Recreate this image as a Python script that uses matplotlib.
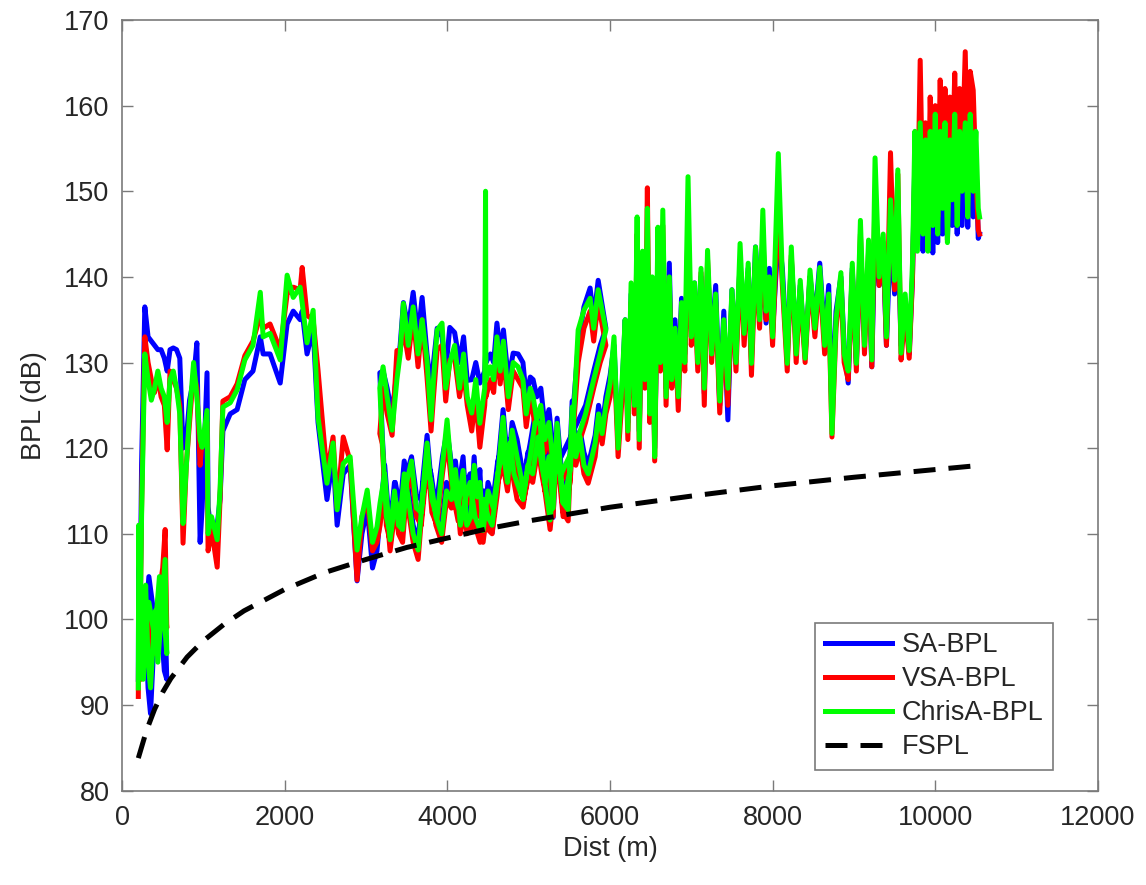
import matplotlib
matplotlib.use('Agg')
import matplotlib.pyplot as plt

# distance along the drive (m); the route goes out, back and out again
dist = [
    200, 205, 230, 260, 290, 320, 350, 380, 410, 440, 470, 500, 530, 550, 520, 460, 400, 330, 260, 215, 240, 280,
    320, 360, 400, 440, 480, 520, 555, 590, 630, 670, 710, 750, 790, 830, 880, 920, 960, 985, 1045, 1058,
    1100, 1170, 1205, 1240, 1330, 1415, 1510, 1610, 1700, 1735, 1820, 1945, 2030, 2105, 2190, 2215, 2275, 2350,
    2410, 2520, 2595, 2645, 2720, 2805, 2890, 2950, 3015, 3080, 3135,
    3173, 3230, 3296, 3360, 3419, 3470, 3518, 3580, 3641, 3700, 3751, 3810, 3874, 3940, 3997, 4060, 4133, 4194,
    4240, 4290, 4330, 4367, 4400, 4440, 4500, 4563, 4620, 4686, 4740, 4797, 4858, 4940, 5018, 5080, 5141, 5200,
    5264, 5350, 5424, 5510, 5560, 5609, 5680, 5756, 5800, 5855, 5950,
    5880, 5800, 5700, 5600, 5500, 5400, 5300, 5250, 5200, 5150, 5100, 5055, 5020, 4970, 4930, 4870, 4810, 4750,
    4690, 4650, 4610, 4570, 4530, 4475, 4470, 4460, 4400, 4350, 4300, 4245, 4200, 4150, 4090, 4030, 3980, 3935,
    3875, 3830, 3800, 3750, 3690, 3640, 3580, 3520, 3460, 3420, 3380, 3321, 3260, 3210, 3170, 3200, 3250,
    3300, 3350, 3400, 3450, 3500, 3560, 3620, 3680, 3740, 3800, 3860, 3930, 3990, 4050, 4100, 4160, 4220, 4280,
    4340, 4403, 4450, 4500, 4551, 4613, 4686, 4730, 4772, 4820, 4858, 4932, 4990, 5050, 5117, 5160, 5200, 5250,
    5301, 5350, 5424, 5486, 5535, 5580, 5633, 5680, 5732, 5818, 5860, 5904, 5950, 6002,
    6050, 6100, 6150, 6187, 6220, 6260, 6300, 6334, 6360, 6400, 6430, 6460, 6490, 6520, 6550, 6590, 6620, 6650,
    6690, 6730, 6760, 6800, 6840, 6880, 6920, 6960, 7000, 7040, 7080, 7120, 7160, 7200, 7250, 7300, 7350, 7400,
    7450, 7500, 7550, 7600, 7650, 7700, 7740, 7790, 7840, 7880, 7920, 7960, 8000, 8070, 8120, 8180, 8230, 8290,
    8340, 8400, 8460, 8520, 8580, 8640, 8690, 8730, 8780, 8840, 8880, 8930, 8980, 9030, 9080, 9130, 9180, 9220,
    9260, 9310, 9360, 9400, 9450, 9500, 9540, 9580, 9630, 9680, 9720,
    9750, 9780, 9815, 9850, 9880, 9910, 9938, 9970, 10000, 10030, 10061, 10090, 10120, 10150, 10180, 10209,
    10240, 10270, 10300, 10330, 10369, 10400, 10430, 10467, 10500, 10529, 10545,
]

sa_bpl = [
    93, 108, 99, 95, 100, 92, 89, 95, 98, 96, 101, 104, 100, 93, 94, 102, 100, 105, 96, 95, 118, 136.5,
    133, 132.5, 132, 131.5, 131.5, 130.5, 129, 131.5, 131.7, 131.5, 130.5, 120, 121, 125.6, 128, 132.3, 109, 113, 128.8, 113.1,
    110, 111, 114, 122, 124, 124.5, 128, 129, 133, 131, 131, 127.6, 134.5, 136, 135, 136, 131, 134,
    123, 114, 119, 111, 117, 118, 104.5, 110, 113, 106, 108,
    112, 118, 110, 116, 113, 118.5, 115.5, 111, 109, 116.5, 121.5, 115, 114, 119, 122, 117.5, 115, 119,
    112, 113, 119, 113, 117.5, 109.5, 116, 114, 118.5, 120.5, 117, 123, 121, 116.5, 120.5, 124, 124, 117.5,
    112, 122, 115, 118, 126, 132, 136.5, 138.7, 135, 139.6, 134,
    132, 129, 125, 123, 121, 119, 120, 124.5, 122.5, 127, 126, 128, 128.3, 126, 130, 131, 131.1, 128,
    133.8, 131, 134.6, 130, 131, 130, 131, 129, 127.6, 130, 128, 127.9, 133, 130, 133.5, 134.1, 129, 133,
    134, 130, 127, 131, 137.6, 133, 138.2, 134, 137, 132, 129, 124, 127, 129, 128.8, 121.5, 113,
    111, 116, 112.5, 112, 117, 119, 114.5, 114, 119, 117, 113, 111, 116, 115, 118.5, 113, 115.5, 117,
    113.5, 112, 115, 111, 110.1, 117, 124.5, 119.5, 121, 118.5, 117.5, 115, 119.5, 118.5, 122, 119.5, 117, 120.5,
    111.9, 123.5, 115, 114, 125.5, 120.5, 122, 119.5, 118, 121.5, 125, 122.5, 126, 128.5,
    132, 121, 127, 135, 123, 138, 126, 141, 122, 139, 129, 143, 125, 138.5, 120, 142, 131, 141,
    127, 141.6, 129, 135, 127.5, 137.5, 131, 142, 134, 139.3, 131, 140, 126.4, 141, 132, 139, 125, 136,
    123.3, 138.5, 131, 141.6, 134, 141, 130.5, 143.5, 136, 141, 134.6, 141, 133.5, 145, 141, 130.5, 142, 132,
    139, 131, 140, 135, 141.6, 133, 139, 124, 136, 140, 132, 127.6, 141, 129.9, 143, 133, 142, 129.5,
    146, 139, 143, 132, 145, 138, 146, 132, 137, 131, 140,
    154, 145, 156, 143, 153, 144, 155, 142.8, 156, 144, 155, 145, 156, 144.3, 154, 146,
    156, 145, 155, 146, 155, 145.8, 155, 147, 154, 144.5, 145,
]

vsa_bpl = [
    91, 100, 93, 97, 102, 99, 96, 100, 99, 102, 104, 106, 110.5, 99, 103, 100, 96, 99, 95, 93, 113, 133,
    130, 128, 126.5, 128.5, 126, 125, 119.8, 129, 128, 127, 125, 108.9, 118, 123, 129, 127, 118, 121, 123, 108,
    110.5, 106.1, 114, 125.5, 126, 127.5, 130.8, 132.5, 135.5, 134, 134.5, 131.5, 138, 138.8, 138.5, 141.1, 135.5, 135,
    129.1, 117, 121.3, 113, 121.3, 118.5, 104.6, 112, 114, 108, 109,
    111, 115.5, 108, 113, 112, 116, 113, 109, 107, 114, 119.5, 112.5, 111, 117, 121, 115, 111.5, 116,
    110, 110.5, 117, 112, 115, 109, 113.5, 111.5, 116, 118, 115, 120.5, 117, 114, 117.5, 121.5, 121, 115,
    110.5, 119, 112, 116, 123.5, 130, 134, 136, 132.5, 137, 132,
    130, 127, 123, 120, 118, 116, 117, 121.5, 119.5, 123, 121.5, 124, 126, 122.5, 127, 128, 129, 124.5,
    131, 127.5, 132, 126.5, 128, 126, 127, 125, 120.1, 126, 122, 125, 129, 126, 130.5, 130.3, 125.5, 132,
    131.5, 126, 122, 128.3, 135, 129.5, 135.5, 130.5, 134, 131.4, 131.4, 121.5, 124, 127, 121.7, 120.5, 111,
    109, 114, 110, 109, 115, 117, 112, 111, 117, 115, 111, 109, 114, 113, 116.5, 110, 113, 115,
    111, 109, 113, 110.5, 110, 114.5, 122, 117, 119, 116, 114, 113.1, 117, 116, 120, 117, 115, 118,
    112, 121.5, 112.5, 111.5, 123.5, 118, 120, 117, 115.9, 119, 123, 120.5, 124, 126,
    131, 119, 126, 133.5, 121, 137, 124, 145, 120, 141, 127, 150.4, 123, 139, 118.5, 143, 129, 146,
    125, 139, 127, 133, 124.4, 136, 129, 146, 132, 138, 129, 140.5, 125, 142, 130, 137, 124.1, 134,
    125, 137.5, 129, 142, 132, 140.5, 128.5, 142, 134, 145, 135, 139.5, 132, 149, 139, 129, 142.5, 130,
    138.5, 130, 140, 133, 140, 131, 137, 121.3, 134, 139.5, 130, 128, 140.5, 129, 145, 131, 143, 129.5,
    150, 139, 144, 132, 154.5, 138.5, 152, 130.3, 136, 130.5, 139.6,
    153, 146, 165.3, 147, 158, 145, 161, 148, 160, 147, 163, 150, 162, 148, 161, 152,
    163.8, 150, 162, 153, 166.3, 151, 164, 161.8, 152, 145.5, 145,
]

chrisa_bpl = [
    92, 111, 97, 93, 104, 95, 92, 97, 101, 95, 99, 103, 107, 96, 100, 105, 98, 102, 98, 94, 112, 131,
    128, 125.6, 127, 129, 127, 126, 123, 128, 129, 127, 124, 111.2, 117.8, 124, 130, 126, 121, 120.1, 124.4, 110,
    112, 109.3, 115.1, 124.8, 125.3, 126.8, 130.3, 132, 138.2, 133, 133.4, 130.3, 140.2, 137.6, 138.8, 137, 132.3, 136.1,
    123.6, 115.9, 120.6, 112.8, 118.2, 119, 108.1, 112, 115.1, 109, 110.8,
    113.6, 117, 109.3, 114, 111.6, 117, 114.3, 110, 108.1, 115, 120.6, 114, 111.9, 118, 123.3, 116, 113.1, 117.4,
    111, 112, 118, 114.3, 116, 110.4, 115, 113.1, 117, 119.8, 116, 122.1, 119, 115, 119, 123, 122.9, 116,
    111.6, 120.1, 113.6, 117.4, 125, 133.8, 136.1, 137.5, 134, 138.5, 133.8,
    131, 128, 124, 121, 119, 117, 118.2, 123, 121, 125, 123.3, 126, 127, 124, 128, 129.5, 130, 126,
    132.5, 129, 133, 128, 129.5, 128, 150, 127, 122.9, 128, 124.1, 126, 131, 127, 132, 129.9, 127, 134.6,
    133.8, 128, 123.3, 130.3, 135, 131, 136.5, 132, 136.9, 131, 128, 122.1, 126, 129.5, 127, 121, 112,
    110, 115, 111, 110.5, 116, 118.5, 113, 112.5, 118, 116, 112, 110, 115, 114, 117.5, 111, 114, 116,
    112, 110.4, 114, 112, 111, 115.9, 123.6, 118, 120.6, 117, 115.9, 114, 118, 117, 121.3, 118, 116, 119,
    113, 122.9, 113.6, 112.8, 124.8, 119, 121.3, 118, 117, 120.6, 124, 121.7, 125, 127.6,
    133, 120, 128, 135, 122, 139.3, 125, 147, 121, 143, 128, 148, 124, 140, 119, 145.8, 130, 147.8,
    126, 140, 128, 134, 126, 137, 130, 151.7, 133, 139.3, 130, 141, 127, 143.1, 131, 138, 125.5, 135,
    127, 138.5, 130, 143.9, 133.4, 141.6, 129.9, 143.5, 135, 147.8, 136, 140, 133, 154.4, 140, 129.9, 143.5, 131,
    139.6, 130.5, 140.8, 134, 141.1, 132, 138, 121.7, 135, 140.5, 131, 129, 141.6, 129.9, 146.6, 132, 144.3, 130.3,
    153.9, 140, 145, 133, 149, 139.6, 152.5, 131.1, 138, 131.4, 141.6,
    157, 143, 158, 145, 156, 143, 157, 146, 159, 145, 157, 148, 158, 144, 156, 149,
    159, 146, 157, 150, 158, 147, 159, 150, 157, 148, 147,
]

# free space path loss
fspl_dist = [200, 300, 400, 500, 600, 800, 1000, 1250, 1500, 2000, 2500, 3000, 3500, 4000,
             4500, 5000, 5500, 6000, 7000, 8000, 9000, 10000, 10450]
fspl_db = [83.8, 87.0, 89.5, 91.5, 93.1, 95.6, 97.5, 99.4, 101.0, 103.5, 105.5, 107.0, 108.4, 109.5,
           110.6, 111.5, 112.3, 113.1, 114.4, 115.6, 116.6, 117.5, 117.9]

plt.rcParams['font.family'] = ['Liberation Sans', 'DejaVu Sans']
txt = '#262626'
edge = '#7a7a7a'

fig = plt.figure(figsize=(11.46, 8.85), dpi=100)
ax = fig.add_axes([0.1065, 0.1066, 0.8515, 0.8708])

lw = 3.6
ax.plot(dist, sa_bpl, color=(0, 0, 1), lw=lw, label='SA-BPL', solid_joinstyle='round')
ax.plot(dist, vsa_bpl, color=(1, 0, 0), lw=lw, label='VSA-BPL', solid_joinstyle='round')
ax.plot(dist, chrisa_bpl, color=(0, 1, 0), lw=lw, label='ChrisA-BPL', solid_joinstyle='round')
line, = ax.plot(fspl_dist, fspl_db, color='k', lw=lw, label='FSPL')
line.set_dashes([4.4, 2.6])

ax.set_xlim(0, 12000)
ax.set_ylim(80, 170)
ax.set_xticks(range(0, 12001, 2000))
ax.set_yticks(range(80, 171, 10))
ax.set_xlabel('Dist (m)', fontsize=19.5, color=txt, labelpad=4)
ax.set_ylabel('BPL (dB)', fontsize=19.5, color=txt, labelpad=12)

ax.tick_params(direction='in', length=8, width=1, colors=edge, labelcolor=txt,
               labelsize=19.5, top=True, right=True)
ax.tick_params(axis='x', pad=10)
ax.tick_params(axis='y', pad=9)
for s in ax.spines.values():
    s.set_color(edge)
    s.set_linewidth(1.2)

leg = ax.legend(loc='lower right', bbox_to_anchor=(0.954, 0.027), borderaxespad=0,
                fontsize=19.5, handlelength=2.5, handletextpad=0.35, labelspacing=0.3,
                borderpad=0.35, fancybox=False, framealpha=1)
leg.get_frame().set_edgecolor(edge)
leg.get_frame().set_linewidth(1.2)
for t in leg.get_texts():
    t.set_color(txt)

fig.savefig('out.png', dpi=100)
